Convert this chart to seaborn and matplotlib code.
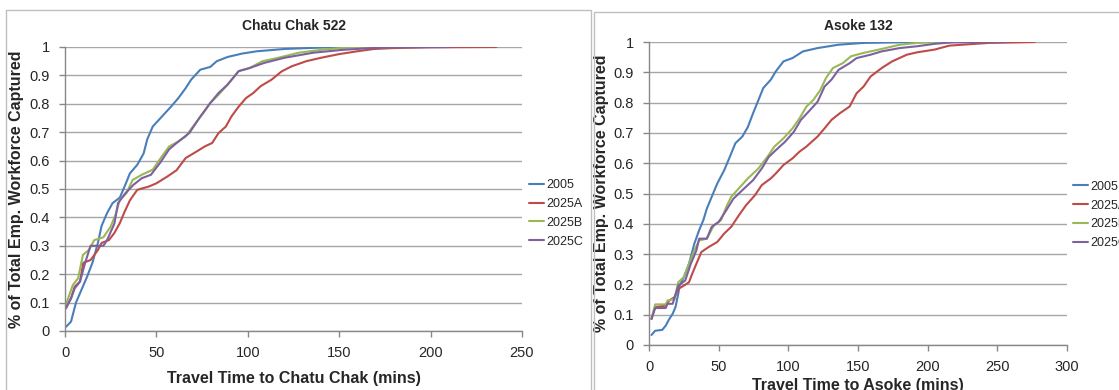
import numpy as np
import pandas as pd
import matplotlib
matplotlib.use("Agg")
import matplotlib.pyplot as plt
import seaborn as sns
from matplotlib.patches import Rectangle

# ---------------- data ----------------
series_names = ["2005", "2025A", "2025B", "2025C"]
colors = ["#4A7EBB", "#BE4B48", "#98B954", "#7D60A0"]

# Chatu Chak 522
cc_2005_t = [0.6, 3.3, 6, 9, 12, 15, 18, 20, 23, 26, 30, 33, 35.5, 39.5, 43, 45, 48, 53, 58, 62, 66, 69, 74, 79.5, 83, 89, 97, 105, 120, 140, 160, 210]
cc_2005_v = [0.015, 0.033, 0.10, 0.145, 0.19, 0.24, 0.31, 0.37, 0.415, 0.45, 0.47, 0.515, 0.555, 0.585, 0.625, 0.675, 0.72, 0.755, 0.79, 0.82, 0.855, 0.885, 0.92, 0.93, 0.95, 0.965, 0.977, 0.985, 0.993, 0.998, 1.0, 1.0]
cc_2025a_t = [0.6, 3.3, 5.3, 8.2, 10, 14, 18, 20, 24, 27, 30, 32.6, 35.5, 39.5, 46, 50, 56, 61, 66, 72, 76.5, 80.5, 84, 88, 91, 95, 99, 103, 107, 113, 118.5, 124, 132, 140, 150, 160, 169, 179, 199, 236]
cc_2025a_v = [0.086, 0.115, 0.156, 0.174, 0.24, 0.25, 0.285, 0.31, 0.32, 0.345, 0.38, 0.42, 0.46, 0.497, 0.509, 0.52, 0.544, 0.566, 0.609, 0.632, 0.65, 0.662, 0.697, 0.72, 0.755, 0.79, 0.82, 0.838, 0.862, 0.885, 0.914, 0.932, 0.95, 0.962, 0.975, 0.985, 0.993, 0.996, 0.999, 1.0]
cc_2025b_t = [0.6, 4.3, 7.2, 9.8, 13, 16, 21, 25, 27.7, 30, 33.6, 37, 42, 48, 53, 57, 62, 66, 70.7, 75.6, 79.5, 84, 89, 95, 101, 108, 116.6, 128, 140, 150, 160, 200]
cc_2025b_v = [0.095, 0.162, 0.186, 0.268, 0.285, 0.32, 0.33, 0.368, 0.41, 0.462, 0.485, 0.532, 0.55, 0.568, 0.615, 0.65, 0.667, 0.685, 0.726, 0.767, 0.803, 0.832, 0.868, 0.915, 0.926, 0.95, 0.962, 0.98, 0.99, 0.996, 0.999, 1.0]
cc_2025c_t = [0.6, 3.3, 5.3, 8.2, 11, 14, 21, 23, 27, 29, 33, 37.5, 42, 47, 52, 57, 62, 68, 74, 79.5, 84, 89, 95, 101, 109, 120, 136, 152, 167, 179, 210]
cc_2025c_v = [0.08, 0.115, 0.15, 0.174, 0.24, 0.30, 0.30, 0.32, 0.378, 0.45, 0.485, 0.515, 0.538, 0.55, 0.592, 0.64, 0.667, 0.697, 0.755, 0.803, 0.838, 0.868, 0.915, 0.926, 0.944, 0.962, 0.98, 0.99, 0.996, 0.999, 1.0]

# Asoke 132
as_2005_t = [1.8, 4.4, 9.5, 12, 14.6, 17, 19, 21, 22, 25, 28.7, 32.5, 36, 39, 41.5, 45, 49, 54, 58, 62, 67, 71, 74.7, 78.6, 82, 87.5, 91, 96.5, 103, 110.5, 121, 136, 154, 180, 230]
as_2005_v = [0.033, 0.047, 0.05, 0.064, 0.086, 0.103, 0.125, 0.169, 0.196, 0.224, 0.268, 0.334, 0.379, 0.412, 0.45, 0.489, 0.533, 0.577, 0.621, 0.666, 0.688, 0.72, 0.765, 0.809, 0.848, 0.876, 0.903, 0.936, 0.947, 0.969, 0.98, 0.991, 0.997, 0.999, 1.0]
as_2025a_t = [1.8, 4.4, 12, 14.6, 18.4, 21, 25, 28.7, 31, 34, 37.6, 42.7, 49, 54, 59, 64.5, 69.6, 76, 81, 87.5, 91, 96.5, 103, 108, 113, 121, 126, 131, 137, 144, 149, 154, 159, 167, 174.5, 185, 192.5, 205, 215.5, 231, 244, 277]
as_2025a_v = [0.086, 0.125, 0.13, 0.147, 0.158, 0.185, 0.196, 0.207, 0.235, 0.268, 0.307, 0.323, 0.34, 0.368, 0.39, 0.428, 0.461, 0.494, 0.528, 0.55, 0.566, 0.594, 0.616, 0.638, 0.655, 0.688, 0.715, 0.743, 0.765, 0.787, 0.831, 0.853, 0.886, 0.914, 0.936, 0.958, 0.966, 0.975, 0.988, 0.993, 0.997, 1.0]
as_2025b_t = [1.8, 4.4, 12, 13.3, 18.4, 21, 25, 28.7, 32.5, 36, 41.5, 46.6, 51.7, 55.5, 59, 64.5, 71, 78.6, 85, 90, 96.5, 103, 108, 113, 118, 123, 127, 132, 139, 145, 154, 167, 180, 192.5, 205, 250]
as_2025b_v = [0.086, 0.134, 0.134, 0.147, 0.152, 0.207, 0.224, 0.268, 0.312, 0.345, 0.351, 0.395, 0.412, 0.456, 0.489, 0.517, 0.55, 0.583, 0.621, 0.655, 0.682, 0.715, 0.748, 0.787, 0.809, 0.842, 0.881, 0.914, 0.93, 0.953, 0.964, 0.977, 0.991, 0.997, 1.0, 1.0]
as_2025c_t = [1.8, 4.4, 12, 13.3, 17, 21, 26, 30, 34, 36, 41.5, 45, 50, 55.5, 60.6, 67, 74.7, 81, 86, 91, 97.7, 104, 109, 115.7, 121, 126, 131, 136, 144, 149, 159, 167, 180, 192.5, 205, 218, 256]
as_2025c_v = [0.086, 0.122, 0.122, 0.136, 0.136, 0.196, 0.213, 0.268, 0.312, 0.351, 0.351, 0.39, 0.406, 0.445, 0.483, 0.511, 0.544, 0.583, 0.621, 0.643, 0.671, 0.704, 0.743, 0.776, 0.803, 0.853, 0.876, 0.908, 0.93, 0.947, 0.958, 0.969, 0.98, 0.986, 0.994, 0.999, 1.0]

panels = [
    dict(title="Chatu Chak 522", xlabel="Travel Time to Chatu Chak (mins)", xmax=250,
         series=[(cc_2005_t, cc_2005_v), (cc_2025a_t, cc_2025a_v), (cc_2025b_t, cc_2025b_v), (cc_2025c_t, cc_2025c_v)]),
    dict(title="Asoke 132", xlabel="Travel Time to Asoke (mins)", xmax=300,
         series=[(as_2005_t, as_2005_v), (as_2025a_t, as_2025a_v), (as_2025b_t, as_2025b_v), (as_2025c_t, as_2025c_v)]),
]

# ---------------- style ----------------
sns.set_style("white")
plt.rcParams["font.family"] = ["Liberation Sans", "DejaVu Sans"]

W, H = 1119, 390
fig = plt.figure(figsize=(W / 100, H / 100), dpi=100)

def fx(px):
    return px / W

def fy(py):
    return 1 - py / H

# chart frames (Excel-like)
fig.add_artist(Rectangle((fx(6), fy(400)), fx(585), fy(10) - fy(400), transform=fig.transFigure,
                         fill=False, edgecolor="#BFBFBF", lw=1.0))
fig.add_artist(Rectangle((fx(594), fy(400)), fx(600), fy(12) - fy(400), transform=fig.transFigure,
                         fill=False, edgecolor="#BFBFBF", lw=1.0, zorder=3))

axes_px = [(65, 47, 522, 331), (649, 42, 1067, 345)]
legend_y = [0.414, 0.429]
xlabel_pad = [8, 3]
ylabel_pad = [4, 3]
title_pad = [12, 9]

for i, (p, (l, t, r, b)) in enumerate(zip(panels, axes_px)):
    ax = fig.add_axes([fx(l), fy(b), fx(r) - fx(l), fy(t) - fy(b)])
    frames = []
    for name, (tt, vv) in zip(series_names, p["series"]):
        frames.append(pd.DataFrame({"time": tt, "share": vv, "series": name}))
    df = pd.concat(frames, ignore_index=True)
    sns.lineplot(data=df, x="time", y="share", hue="series", hue_order=series_names,
                 palette=colors, ax=ax, lw=1.5, sort=False, estimator=None)
    ax.set_xlim(0, p["xmax"])
    ax.set_ylim(0, 1)
    ax.set_xticks(np.arange(0, p["xmax"] + 1, 50))
    ax.set_yticks(np.round(np.arange(0, 1.01, 0.1), 1))
    ax.set_yticklabels(["0"] + [f"{v:.1f}" for v in np.arange(0.1, 0.95, 0.1)] + ["1"])
    ax.yaxis.grid(True, color="#A6A6A6", lw=1.0)
    ax.xaxis.grid(False)
    for s in ["top", "right"]:
        ax.spines[s].set_visible(False)
    for s in ["left", "bottom"]:
        ax.spines[s].set_color("#888888")
        ax.spines[s].set_linewidth(1.0)
    ax.tick_params(axis="both", which="both", direction="out", length=4, width=1,
                   color="#888888", labelsize=10.5, bottom=True, left=True)
    ax.tick_params(axis="x", pad=7)
    ax.tick_params(axis="y", pad=7)
    ax.set_title(p["title"], fontsize=10, fontweight="bold", pad=title_pad[i])
    ax.set_xlabel(p["xlabel"], fontsize=11.5, fontweight="bold", labelpad=xlabel_pad[i])
    ax.set_ylabel("% of Total Emp. Workforce Captured", fontsize=11.5, fontweight="bold",
                  labelpad=ylabel_pad[i])
    ax.legend(loc="center left", bbox_to_anchor=(1.015, legend_y[i]), frameon=False,
              fontsize=9, handlelength=1.2, handletextpad=0.2, labelspacing=0.55,
              borderaxespad=0, borderpad=0)

fig.savefig("out.png", dpi=100)
